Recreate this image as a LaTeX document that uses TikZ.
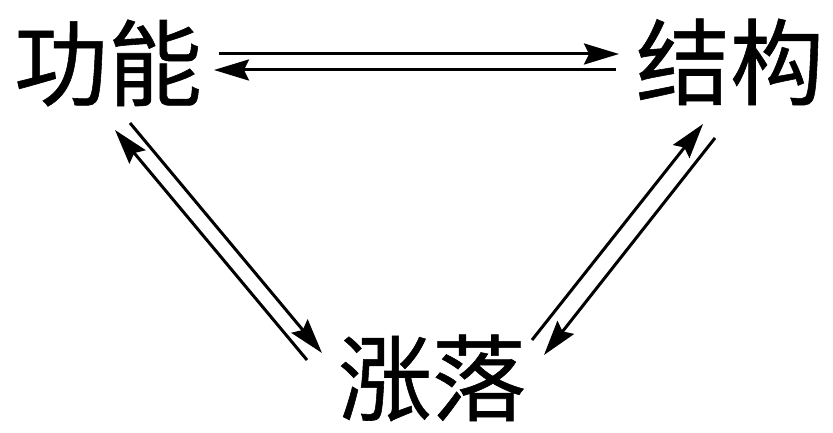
\documentclass[tikz,border=0pt]{standalone}
\usepackage{fontspec}
\newfontfamily\cjk[FakeBold=0.6]{Noto Sans CJK SC}
\usetikzlibrary{calc,arrows.meta}

\begin{document}
\begin{tikzpicture}
      [x=1pt,y=-1pt
      ,word/.style={inner sep=0,font=\cjk\fontsize{94}{94}\selectfont}
      ,lin/.style={line width=3pt,-{Stealth[length=35pt,width=21pt,inset=5pt]}}]
        \useasboundingbox (0,0) rectangle (833,433);
        \node[word] (gn) at (108,63) {功能};
        \node[word] (jg) at (730,62) {结构};
        \node[word] (zl) at (432,378) {涨落};
        % top pair
        \draw[lin] ($(gn)+(111,-9)$) -- ($(jg)+(-111,-8)$);
        \draw[lin] ($(jg)+(-114,8)$) -- ($(gn)+(106,7)$);
        % left pair
        \draw[lin] ($(zl)+(-125,-18)$) -- ($(gn)+(7,67)$);
        \draw[lin] ($(gn)+(22,60)$) -- ($(zl)+(-110,-25)$);
        % right pair
        \draw[lin] ($(zl)+(100,-38)$) -- ($(jg)+(-27,62)$);
        \draw[lin] ($(jg)+(-15,76)$) -- ($(zl)+(112,-23)$);
      \end{tikzpicture}
\end{document}
